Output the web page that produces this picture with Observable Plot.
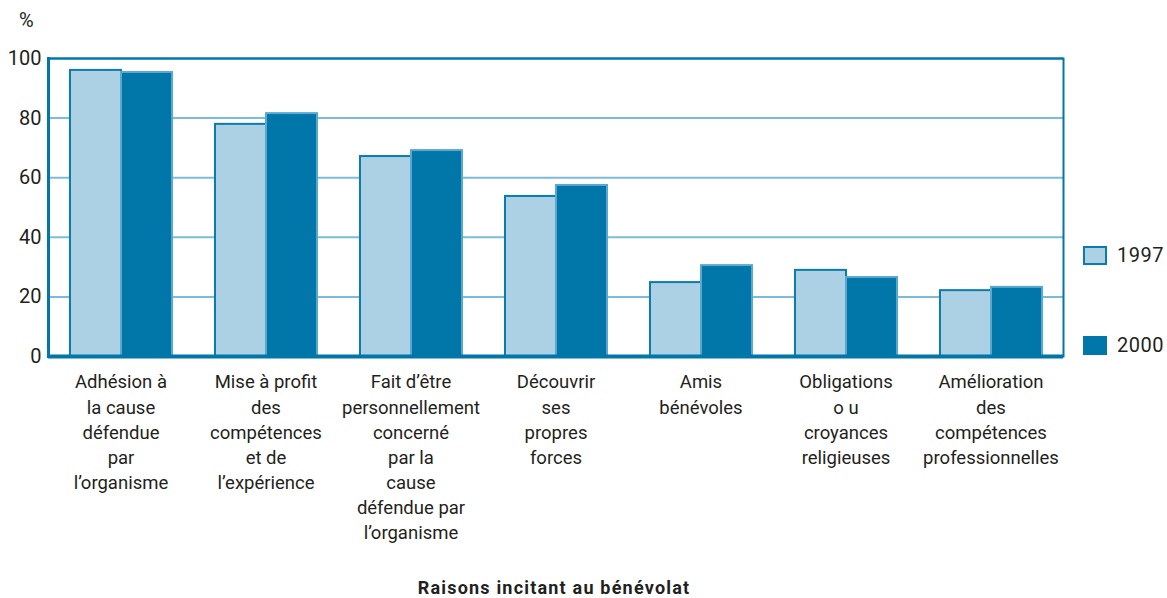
<!DOCTYPE html>
<html>
<head>
<meta charset="utf-8">
<script src="https://cdn.jsdelivr.net/npm/d3@7"></script>
<script src="https://cdn.jsdelivr.net/npm/@observablehq/plot@0.6"></script>
<style>
  html, body { margin: 0; padding: 0; background: #fff; }
  body { font-family: "Roboto", "Liberation Sans", sans-serif; color: #231f20; }
  #wrap { position: relative; width: 1167px; height: 598px; overflow: hidden; }
  #chart { position: absolute; left: 0; top: 0; }
  .pct { position: absolute; left: 19px; top: 8px; font-size: 20px; }
  .leg { position: absolute; left: 1083px; display: flex; align-items: center; font-size: 20px; letter-spacing: 0.5px; white-space: nowrap; }
  .sw { width: 24px; height: 19px; box-sizing: border-box; margin-right: 10px; }
  .title { position: absolute; left: 0; width: 1108px; top: 577px; text-align: center; font-weight: bold; font-size: 18px; letter-spacing: 1.2px; }
</style>
</head>
<body>
<div id="wrap">
  <div id="chart"></div>
  <div class="pct">%</div>
  <div class="leg" style="top:243px"><div class="sw" style="background:#acd1e4;border:2px solid #0a7cae"></div>1997</div>
  <div class="leg" style="top:333px"><div class="sw" style="background:#0077a8"></div>2000</div>
  <div class="title">Raisons incitant au bénévolat</div>
</div>
<script>
const categories = [
  "Adhésion à la cause défendue par l’organisme",
  "Mise à profit des compétences et de l’expérience",
  "Fait d’être personnellement concerné par la cause défendue par l’organisme",
  "Découvrir ses propres forces",
  "Amis bénévoles",
  "Obligations ou croyances religieuses",
  "Amélioration des compétences professionnelles"
];
const categoryLabels = [
  "Adhésion à\nla cause\ndéfendue\npar\nl’organisme",
  "Mise à profit\ndes\ncompétences\net de\nl’expérience",
  "Fait d’être\npersonnellement\nconcerné\npar la\ncause\ndéfendue par\nl’organisme",
  "Découvrir\nses\npropres\nforces",
  "Amis\nbénévoles",
  "Obligations\no u\ncroyances\nreligieuses",
  "Amélioration\ndes\ncompétences\nprofessionnelles"
];
const years = ["1997", "2000"];
const values1997 = [96.0, 77.9, 67.1, 53.7, 24.8, 28.9, 22.1];
const values2000 = [95.3, 81.5, 69.1, 57.4, 30.5, 26.5, 23.2];
const yTicks = [0, 20, 40, 60, 80, 100];
const gridTicks = [20, 40, 60, 80];

const data = [];
categories.forEach((c, i) => {
  data.push({cat: c, year: years[0], value: values1997[i]});
  data.push({cat: c, year: years[1], value: values2000[i]});
});
const labelOf = new Map(categories.map((c, i) => [c, categoryLabels[i]]));

const dark = "#0077a8";
const light = "#acd1e4";
const grid = "#7dbbdb";

const chart = Plot.plot({
  width: 1167,
  height: 560,
  marginLeft: 47,
  marginRight: 104,
  marginTop: 58,
  marginBottom: 204,
  style: {fontFamily: "Roboto, 'Liberation Sans', sans-serif", color: "#231f20", background: "transparent"},
  fx: {domain: categories, padding: 0},
  x: {domain: years, paddingInner: 0, paddingOuter: 0.4, axis: null},
  y: {domain: [0, 100], axis: null},
  color: {domain: years, range: [light, dark]},
  marks: [
    Plot.ruleY(gridTicks, {stroke: grid, strokeWidth: 2}),
    Plot.barY(data, {fx: "cat", x: "year", y: "value", fill: "year",
      stroke: d => d.year === "1997" ? "#0a7cae" : "#5aa8cf", strokeWidth: 2}),
    Plot.ruleY([100], {stroke: dark, strokeWidth: 2.5}),
    Plot.frame({anchor: "left", facetAnchor: "left", stroke: dark, strokeWidth: 3}),
    Plot.frame({anchor: "right", facetAnchor: "right", stroke: dark, strokeWidth: 2}),
    Plot.ruleY([0], {stroke: dark, strokeWidth: 4}),
    Plot.axisY({anchor: "left", ticks: yTicks, tickSize: 0, tickPadding: 7, fontSize: 20, label: null, style: "letter-spacing:1.5px"}),
    Plot.axisFx({anchor: "bottom", tickSize: 0, tickPadding: 14, fontSize: 18.5, lineHeight: 1.36, label: null, tickFormat: d => labelOf.get(d), style: "letter-spacing:0.3px"})
  ]
});
document.getElementById("chart").append(chart);
</script>
</body>
</html>
